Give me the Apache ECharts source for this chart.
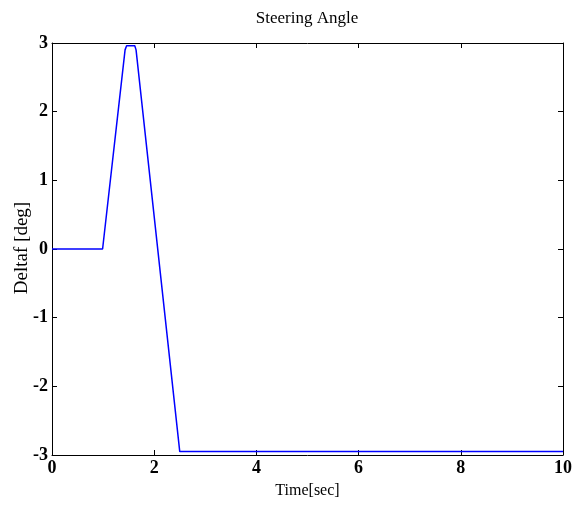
<!DOCTYPE html>
<html>
<head>
<meta charset="utf-8">
<script src="https://cdn.jsdelivr.net/npm/echarts@6/dist/echarts.min.js"></script>
<style>
  html, body { margin: 0; padding: 0; background: #fff; }
  #chart { width: 580px; height: 505px; }
</style>
</head>
<body>
<div id="chart"></div>
<script>
// Steering angle input over time
const timeSec = [0, 0.99, 1.43, 1.46, 1.62, 1.645, 2.50, 10];
const deltafDeg = [0, 0, 2.90, 2.96, 2.96, 2.90, -2.95, -2.95];
const xTicks = [0, 2, 4, 6, 8, 10];
const yTicks = [-3, -2, -1, 0, 1, 2, 3];

const FONT = '"Liberation Serif", "Times New Roman", serif';
const points = timeSec.map((t, i) => [t, deltafDeg[i]]);

const axisLine = { show: true, onZero: false, lineStyle: { color: '#000', width: 1 } };
const axisTick = { show: true, inside: true, length: 5, lineStyle: { color: '#000', width: 1 } };

const chart = echarts.init(document.getElementById('chart'), null, { renderer: 'canvas' });
chart.setOption({
  animation: false,
  backgroundColor: '#fff',
  graphic: [
    {
      type: 'text', x: 307, y: 19,
      style: {
        text: 'Steering Angle', fill: '#000',
        fontFamily: FONT, fontSize: 17, fontWeight: 'normal',
        align: 'center', verticalAlign: 'middle'
      }
    },
    {
      type: 'text', x: 22, y: 248, rotation: Math.PI / 2,
      style: {
        text: 'Deltaf [deg]', fill: '#000',
        fontFamily: FONT, fontSize: 19, fontWeight: 'normal',
        align: 'center', verticalAlign: 'middle'
      }
    }
  ],
  grid: { left: 52, right: 17, top: 43, bottom: 50, containLabel: false, outerBoundsMode: 'none' },
  xAxis: [
    {
      type: 'value', min: xTicks[0], max: xTicks[xTicks.length - 1], interval: 2,
      name: 'Time[sec]', nameLocation: 'middle', nameGap: 28, nameMoveOverlap: false,
      nameTextStyle: { fontFamily: FONT, fontSize: 16, color: '#000' },
      axisLine, axisTick,
      axisLabel: { fontFamily: FONT, fontSize: 18, fontWeight: 'bold', color: '#000', margin: 4 },
      splitLine: { show: false }
    },
    {
      type: 'value', position: 'top', min: xTicks[0], max: xTicks[xTicks.length - 1], interval: 2,
      axisLine, axisTick, axisLabel: { show: false }, splitLine: { show: false }
    }
  ],
  yAxis: [
    {
      type: 'value', min: yTicks[0], max: yTicks[yTicks.length - 1], interval: 1,
      axisLine, axisTick,
      axisLabel: { fontFamily: FONT, fontSize: 18, fontWeight: 'bold', color: '#000', margin: 4 },
      splitLine: { show: false }
    },
    {
      type: 'value', position: 'right', min: yTicks[0], max: yTicks[yTicks.length - 1], interval: 1,
      axisLine, axisTick, axisLabel: { show: false }, splitLine: { show: false }
    }
  ],
  series: [{
    type: 'line',
    data: points,
    showSymbol: false,
    smooth: false,
    lineStyle: { color: '#0000ff', width: 1.5 },
    itemStyle: { color: '#0000ff' }
  }]
});
</script>
</body>
</html>
